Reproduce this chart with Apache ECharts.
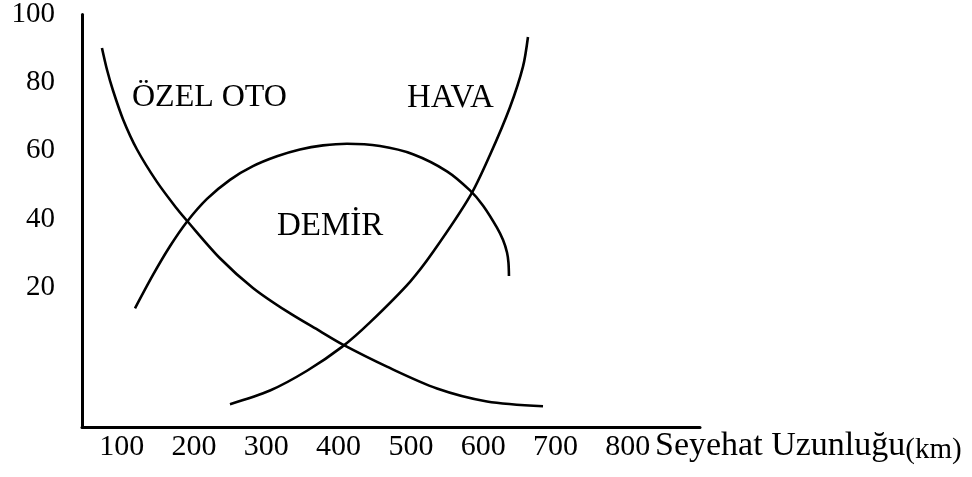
<!DOCTYPE html>
<html>
<head>
<meta charset="utf-8">
<script src="https://cdn.jsdelivr.net/npm/echarts@6/dist/echarts.min.js"></script>
<style>
  html, body { margin: 0; padding: 0; background: #fff; }
  #chart { width: 972px; height: 477px; }
</style>
</head>
<body>
<div id="chart"></div>
<script>
// axis ticks
const xTicks = [100, 200, 300, 400, 500, 600, 700, 800];
const yTicks = [20, 40, 60, 80, 100];

// curves: [km, share]
const ozelOto = [[72.6, 90.2], [79.6, 83.8], [87.9, 77.7], [101.7, 69.3], [121.1, 60.4], [148.7, 50.9], [176.4, 43],
  [190.2, 39.5], [235.9, 28.5], [281.5, 19.8], [328.6, 12.9], [374.2, 7.1], [404.7, 3.3], [466.9, -3.3],
  [536.1, -9.7], [605.3, -13.5], [682.8, -14.9]];
const demir = [[118.3, 13.8], [143.2, 23.6], [166.7, 32], [190.2, 39.2], [217.9, 45.9], [249.7, 51.5], [281.5, 55.5],
  [314.7, 58.4], [346.5, 60.4], [378.4, 61.6], [411.6, 62.1], [457.3, 61.4], [502.9, 59], [549.9, 54],
  [581.8, 48.4], [599.7, 44], [619.1, 37.5], [627.4, 33.9], [633, 30.2], [635, 27.2], [635.7, 23.3]];
const hava = [[249.7, -14.3], [305.1, -10.3], [356.3, -4.5], [404.7, 2.5], [443.4, 9.7], [498.8, 21.6], [530.6, 30.3],
  [581.8, 46.7], [609.4, 58.8], [637.1, 72.8], [655.1, 84.7], [662, 93.4]];

const curveNames = ["ÖZEL OTO", "DEMİR", "HAVA"];
const xTitle = "Seyehat Uzunluğu";
const xUnit = "(km)";

const serif = "'Liberation Serif', 'Times New Roman', serif";

const chart = echarts.init(document.getElementById("chart"));

function curve(name, data) {
  return {
    name: name,
    type: "line",
    data: data,
    smooth: 0.3,
    symbol: "none",
    lineStyle: { color: "#000", width: 2.6 },
  };
}

chart.setOption({
  backgroundColor: "#fff",
  animation: false,
  grid: { left: 82, top: 10, width: 618, height: 417 },
  xAxis: {
    type: "value",
    min: 45,
    max: 900,
    axisLine: { onZero: false, lineStyle: { color: "#000", width: 3 } },
    axisTick: { show: false },
    splitLine: { show: false },
    axisLabel: {
      customValues: xTicks,
      color: "#000",
      fontFamily: serif,
      fontSize: 30,
      margin: 5,
    },
  },
  yAxis: {
    type: "value",
    min: -21,
    max: 100,
    axisLine: { show: true, onZero: false, lineStyle: { color: "#000", width: 3 } },
    axisTick: { show: false },
    splitLine: { show: false },
    axisLabel: {
      customValues: yTicks,
      color: "#000",
      fontFamily: serif,
      fontSize: 29,
      margin: 27,
    },
  },
  series: [curve(curveNames[0], ozelOto), curve(curveNames[1], demir), curve(curveNames[2], hava)],
  graphic: [
    { type: "text", x: 132, y: 98, style: { text: curveNames[0], fill: "#000", font: "32px " + serif, verticalAlign: "middle" } },
    { type: "text", x: 277, y: 226, style: { text: curveNames[1], fill: "#000", font: "33px " + serif, verticalAlign: "middle" } },
    { type: "text", x: 407, y: 98, style: { text: curveNames[2], fill: "#000", font: "33px " + serif, verticalAlign: "middle" } },
    {
      type: "text",
      x: 655,
      y: 446,
      style: {
        text: "{a|" + xTitle + "}{b|" + xUnit + "}",
        verticalAlign: "middle",
        rich: {
          a: { fontFamily: serif, fontSize: 34, color: "#000" },
          b: { fontFamily: serif, fontSize: 29, color: "#000", padding: [8, 0, 0, 0] },
        },
      },
    },
  ],
});
</script>
</body>
</html>
